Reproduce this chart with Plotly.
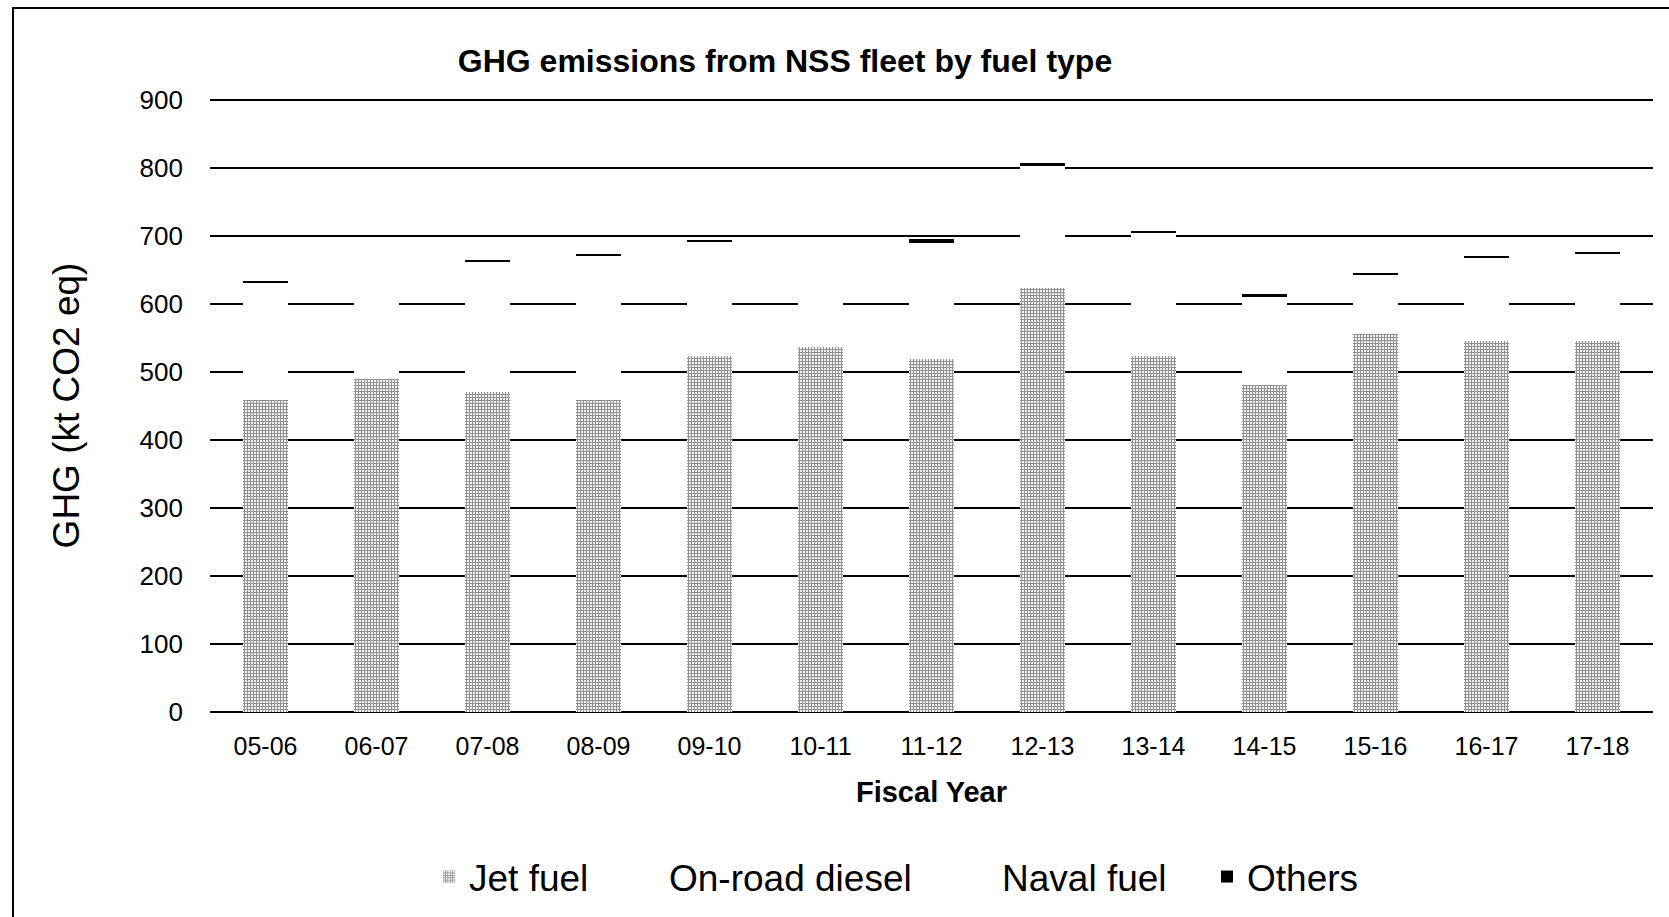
import plotly.graph_objects as go

years = ["05-06", "06-07", "07-08", "08-09", "09-10", "10-11", "11-12",
         "12-13", "13-14", "14-15", "15-16", "16-17", "17-18"]
jet_fuel = [459, 489, 470, 459, 523, 537, 519, 624, 523, 481, 556, 545, 545]
on_road_diesel = [15, 15, 16, 16, 17, 16, 17, 18, 18, 17, 17, 18, 18]
naval_fuel = [157, 151, 177, 196, 152, 112, 154, 161, 163, 113, 70, 105, 110]
others = [1.5, 0, 1.5, 1.5, 1.5, 0, 5, 5, 4, 3, 3, 3, 3]

FONT = "Liberation Sans, Arial, sans-serif"

fig = go.Figure()
fig.add_trace(go.Bar(
    x=years, y=jet_fuel, name="Jet fuel", legend="legend",
    marker=dict(color="white", line_width=0,
                pattern=dict(shape="+", size=3, solidity=0.65, fgcolor="#262626", bgcolor="white")),
))
fig.add_trace(go.Bar(x=years, y=on_road_diesel, name="On-road diesel", legend="legend2",
                     marker=dict(color="white", line_width=0)))
fig.add_trace(go.Bar(x=years, y=naval_fuel, name="Naval fuel", legend="legend3",
                     marker=dict(color="white", line_width=0)))
fig.add_trace(go.Bar(x=years, y=others, name="Others", legend="legend4",
                     marker=dict(color="black", line_width=0)))

W, H = 1669, 917
L, R, T, B = 210, 16, 99, 205
pw, ph = W - L - R, H - T - B


def px_x(p):
    return (p - L) / pw


def px_y(p):
    return (H - B - p) / ph


leg_font = dict(family=FONT, size=37, color="black")
legends = {}
for key, text_start in (("legend", 471), ("legend2", 671), ("legend3", 1004), ("legend4", 1249)):
    legends[key] = dict(
        x=px_x(text_start - 42), y=px_y(877), xanchor="left", yanchor="middle",
        orientation="h", font=leg_font, bgcolor="rgba(0,0,0,0)",
        itemwidth=30,
    )

fig.update_layout(
    barmode="stack",
    bargap=0.6,
    width=W, height=H,
    margin=dict(l=L, r=R, t=T, b=B, autoexpand=False),
    paper_bgcolor="white",
    plot_bgcolor="white",
    font=dict(family=FONT, color="black"),
    title=dict(text="<b>GHG emissions from NSS fleet by fuel type</b>",
               x=px_x(785), xref="paper", xanchor="center",
               y=1 - 61 / H, yanchor="middle",
               font=dict(family=FONT, size=32, color="black")),
    showlegend=True,
    **legends,
    shapes=[dict(type="rect", xref="paper", yref="paper",
                 x0=px_x(13), x1=px_x(1680), y0=px_y(930), y1=px_y(8),
                 line=dict(color="black", width=2), fillcolor="rgba(0,0,0,0)", layer="above")],
)
fig.update_xaxes(
    type="category",
    showgrid=False, showline=False, zeroline=False,
    tickfont=dict(family=FONT, size=25, color="black"),
    ticklabelstandoff=17,
    title=dict(text="<b>Fiscal Year</b>", standoff=22,
               font=dict(family=FONT, size=29, color="black")),
)
fig.update_yaxes(
    range=[0, 901.5], tickvals=list(range(0, 901, 100)),
    showgrid=True, gridcolor="black", gridwidth=2,
    zeroline=True, zerolinecolor="black", zerolinewidth=2.2,
    showline=False,
    tickfont=dict(family=FONT, size=26, color="black"),
    ticklabelstandoff=26,
    title=dict(text="GHG (kt CO2 eq)", standoff=48,
               font=dict(family=FONT, size=37, color="black")),
)

fig.write_html("out.html", config={"displayModeBar": False},
               post_script="document.body.style.margin='0';")
